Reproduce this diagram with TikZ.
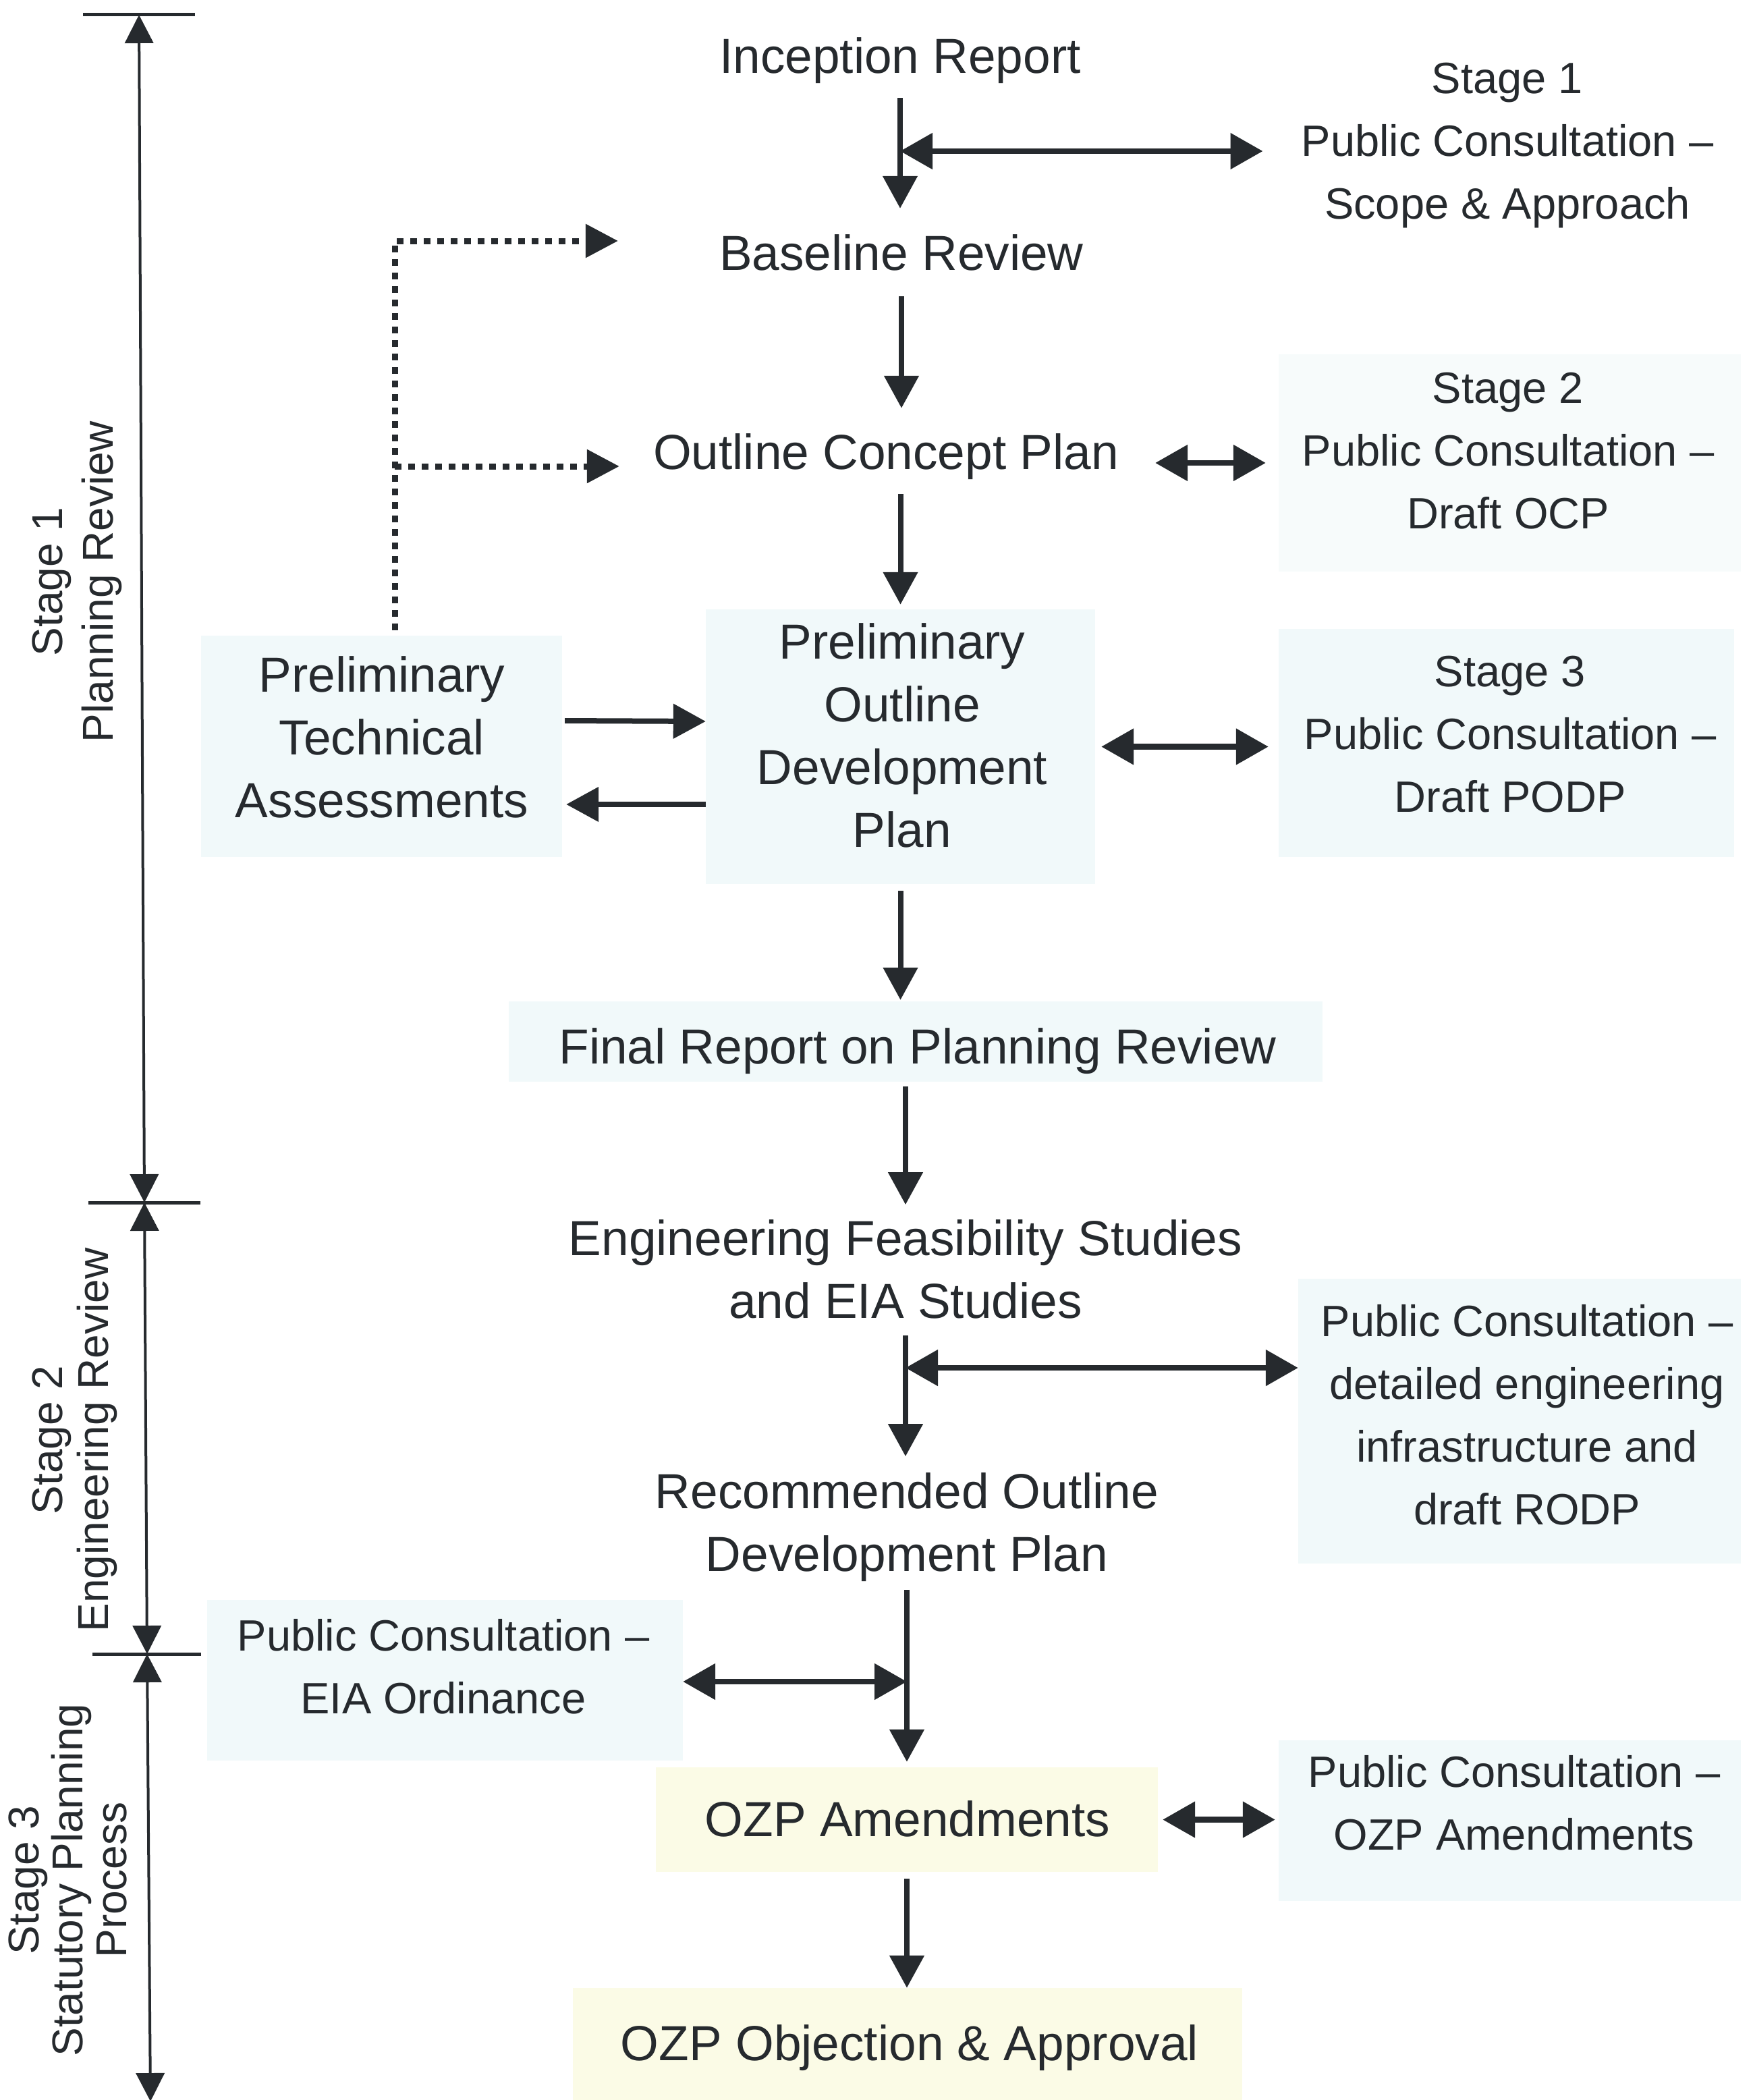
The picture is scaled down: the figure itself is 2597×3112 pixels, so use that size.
\documentclass[tikz,border=0pt]{standalone}
\usepackage{fontspec}
\setmainfont{Liberation Sans}
\usetikzlibrary{arrows.meta}
\definecolor{ink}{RGB}{38,42,46}
\definecolor{cyanbox}{RGB}{241,249,250}
\definecolor{faintbox}{RGB}{247,251,251}
\definecolor{yelbox}{RGB}{251,251,230}
\newcommand\cstrut{\rule[\dimexpr(\fontcharht\font`H-\baselineskip)/2\relax]{0pt}{\baselineskip}}
\tikzset{
  txt/.style={align=center, inner sep=0pt, text=ink, font=\fontsize{73}{93}\selectfont,
    execute at begin node=\cstrut, execute at end node=\cstrut},
  sidetxt/.style={txt, font=\fontsize{65}{93}\selectfont},
  cbox/.style={fill=cyanbox, draw=none, inner sep=0pt},
  fbox/.style={fill=faintbox, draw=none, inner sep=0pt},
  ybox/.style={fill=yelbox, draw=none, inner sep=0pt},
  arr/.style={draw=ink, line width=8pt, -{Triangle[length=48pt,width=50pt]}},
  darr/.style={draw=ink, line width=8.5pt, {Triangle[length=48pt,width=52pt]}-{Triangle[length=48pt,width=52pt]}},
  dotarr/.style={draw=ink, line width=9pt, dash pattern=on 10pt off 10pt, -{Triangle[length=48pt,width=48pt]}},
  tl/.style={draw=ink, line width=4pt, {Triangle[length=42pt,width=42pt]}-{Triangle[length=42pt,width=42pt]}},
  tickln/.style={draw=ink, line width=5pt},
}
\begin{document}
\begin{tikzpicture}[x=1pt, y=-1pt]
\useasboundingbox[fill=white] (0,0) rectangle (2597,3112);

% ---------- background boxes ----------
\node[fbox, minimum width=685pt, minimum height=322pt] (s2box) at (2237.5,686) {};
\node[cbox, minimum width=675pt, minimum height=338pt] (s3box) at (2232.5,1101) {};
\node[cbox, minimum width=577pt, minimum height=407pt] (podpbox) at (1334.5,1106.5) {};
\node[cbox, minimum width=535pt, minimum height=328pt] (ptabox) at (565.5,1106) {};
\node[cbox, minimum width=1206pt, minimum height=119pt] (finalbox) at (1357,1543.5) {};
\node[cbox, minimum width=656pt, minimum height=422pt] (detbox) at (2252,2106) {};
\node[cbox, minimum width=705pt, minimum height=238pt] (eiabox) at (659.5,2490) {};
\node[cbox, minimum width=685pt, minimum height=238pt] (ozpsbox) at (2237.5,2698) {};
\node[ybox, minimum width=744pt, minimum height=155pt] (ozpabox) at (1344,2696.5) {};
\node[ybox, minimum width=992pt, minimum height=166pt] (ozpobox) at (1345,3029) {};

% ---------- texts ----------
\node[txt] (inc) at (1334,83) {Inception Report};
\node[txt] (base) at (1336,375) {Baseline Review};
\node[txt] (ocp) at (1313,670) {Outline Concept Plan};
\node[txt] (podp) at (1337,1100) {Preliminary\\Outline\\Development\\Plan};
\node[txt] (pta) at (566,1103) {Preliminary\\Technical\\Assessments};
\node[txt] (final) at (1360,1551) {Final Report on Planning Review};
\node[txt] (eng) at (1342,1891) {Engineering Feasibility Studies\\and EIA Studies};
\node[txt] (rodp) at (1344,2266) {Recommended Outline\\Development Plan};
\node[txt] (ozpa) at (1345,2696) {OZP Amendments};
\node[txt] (ozpo) at (1348,3028) {OZP Objection \& Approval};

\node[sidetxt] (s1) at (2234,221) {Stage 1\\Public Consultation –\\Scope \& Approach};
\node[sidetxt] (s2) at (2235,680) {Stage 2\\Public Consultation –\\Draft OCP};
\node[sidetxt] (s3) at (2238,1100) {Stage 3\\Public Consultation –\\Draft PODP};
\node[sidetxt] (det) at (2263,2108) {Public Consultation –\\detailed engineering\\infrastructure and\\draft RODP};
\node[sidetxt] (eia) at (657,2481) {Public Consultation –\\EIA Ordinance};
\node[sidetxt] (ozps) at (2244,2683) {Public Consultation –\\OZP Amendments};

% ---------- stage labels ----------
\node[txt, rotate=90, font=\fontsize{64}{75}\selectfont] (lab1) at (115.6,862) {Stage 1\\Planning Review};
\node[txt, rotate=90, font=\fontsize{64}{68}\selectfont] (lab2) at (111,2134) {Stage 2\\Engineering Review};
\node[txt, rotate=90, font=\fontsize{64}{65}\selectfont] (lab3) at (105.7,2786) {Stage 3\\Statutory Planning\\Process};

% ---------- timeline ----------
\coordinate (t0) at (206,22);
\coordinate (t1) at (214,1782);
\coordinate (t2) at (218,2451);
\coordinate (t3) at (223,3114);
\draw[tickln] ([xshift=-83pt]t0) -- ([xshift=83pt]t0);
\draw[tickln] ([xshift=-83pt]t1) -- ([xshift=83pt]t1);
\draw[tickln] ([xshift=-81pt]t2) -- ([xshift=80pt]t2);
\draw[tl] (t0) -- (t1);
\draw[tl] (t1) -- (t2);
\draw[tl] (t2) -- (t3);

% ---------- main flow ----------
\draw[arr, shorten <=15.5pt, shorten >=19.5pt] (inc.south) -- (inc.south |- base.north);
\draw[arr, shorten <=17.5pt, shorten >=18.5pt] (base.south) -- (base.south |- ocp.north);
\draw[arr, shorten <=15.5pt, shorten >=7pt] (podpbox.north |- ocp.south) -- (podpbox.north);
\draw[arr, shorten <=10pt, shorten >=2pt] (podpbox.south) -- (podpbox.south |- finalbox.north);
\draw[arr, shorten <=7pt, shorten >=22pt] (eng.north |- finalbox.south) -- (eng.north);
\draw[arr, shorten <=4pt, shorten >=24pt] (eng.south) -- (eng.south |- rodp.north);
\draw[arr, shorten <=6pt, shorten >=8pt] (rodp.south) -- (rodp.south |- ozpabox.north);
\draw[arr, shorten <=10pt, shorten >=0pt] (ozpabox.south) -- (ozpabox.south |- ozpobox.north);

% ---------- consultation links ----------
\draw[darr, shorten >=57pt] (inc.south |- 0,224) -- (s1.west |- 0,224);
\draw[darr, shorten <=54pt, shorten >=19pt] (ocp.east |- s2box.west) -- (s2box.west);
\draw[darr, shorten <=9pt, shorten >=15pt] (podpbox.east) -- (podpbox.east -| s3box.west);
\draw[darr] (eng.south |- 0,2027) -- (detbox.west |- 0,2027);
\draw[darr] (eiabox.east |- 0,2492) -- (rodp.south |- 0,2492);
\draw[darr, shorten <=7pt, shorten >=5pt] (ozpabox.east) -- (ozpabox.east -| ozpsbox.west);

% ---------- technical assessments ----------
\draw[arr, shorten <=4pt] ([yshift=38pt]ptabox.east) -- ([yshift=37.5pt]podpbox.west);
\draw[arr, shorten >=6pt] ([yshift=-85.5pt]podpbox.west) -- ([yshift=-86pt]ptabox.east);
\coordinate (dtop) at (585,357);
\coordinate (dmid) at (585,691);
\draw[dotarr, shorten <=8pt, shorten >=150pt] ([xshift=19.5pt]ptabox.north) -- (dtop) -- (base.west |- dtop);
\draw[dotarr, shorten >=50pt] (dmid) -- (ocp.west |- dmid);
\end{tikzpicture}
\end{document}
